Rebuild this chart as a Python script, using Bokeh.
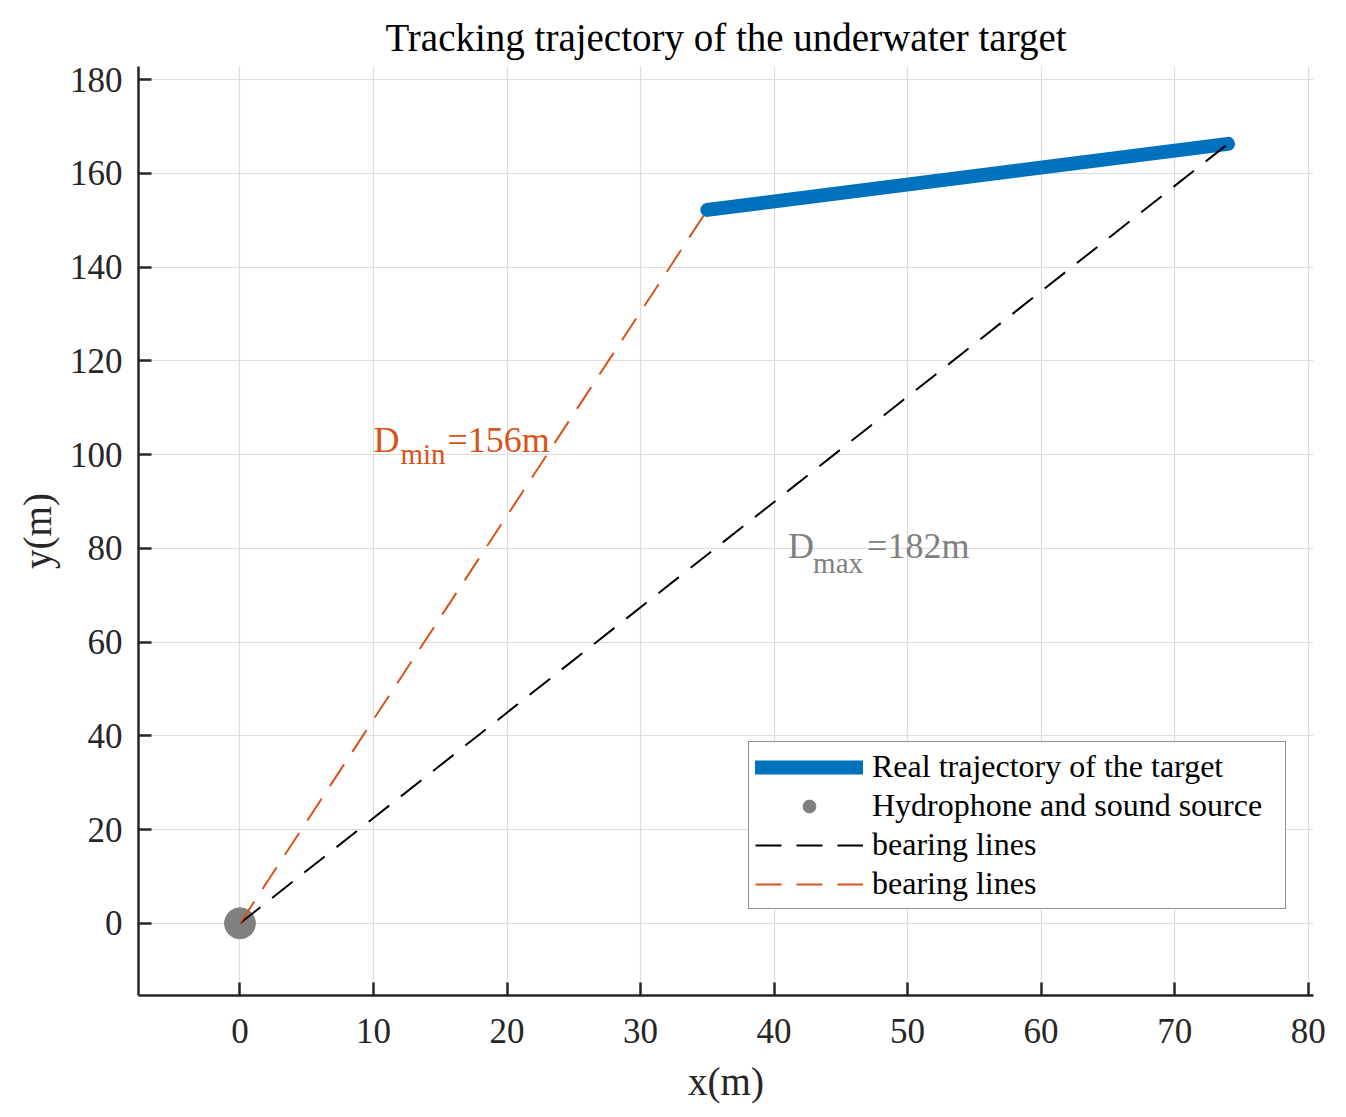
from bokeh.plotting import figure
from bokeh.models import Range1d, Legend, LegendItem, FixedTicker
from bokeh.core.properties import value
from bokeh.embed import file_html
from bokeh.resources import INLINE

FONT = "Liberation Serif"

# ---- data ----
traj_x = [35.0, 74.0]
traj_y = [152.2, 166.3]
hydro_x = [0.0]
hydro_y = [0.0]
bear_max_x = [0.0, 74.0]
bear_max_y = [0.0, 166.3]
bear_min_x = [0.0, 35.0]
bear_min_y = [0.0, 152.2]
x_ticks = [0, 10, 20, 30, 40, 50, 60, 70, 80]
y_ticks = [0, 20, 40, 60, 80, 100, 120, 140, 160, 180]
ann_x = [10.0, 41.05]
ann_y = [103.2, 80.5]
ann_main = ["D", "D"]
ann_sub = ["min", "max"]
ann_rest = ["=156m", "=182m"]
legend_labels = ["Real trajectory of the target", "Hydrophone and sound source",
                 "bearing lines", "bearing lines"]

BLUE = "#0072BD"
ORANGE = "#D95319"
GRAY = "#808080"
AX = "#262626"

p = figure(frame_width=1175, frame_height=929,
           x_range=Range1d(-7.6, 80.4), y_range=Range1d(-15.4, 182.8),
           output_backend="svg", toolbar_location=None,
           min_border_left=138, min_border_right=25, min_border_top=66, min_border_bottom=105,
           outline_line_color=None, background_fill_color="white", border_fill_color="white")

p.title.text = "Tracking trajectory of the underwater target"
p.title.align = "center"
p.title.text_font = FONT
p.title.text_font_size = "39px"
p.title.text_font_style = "normal"
p.title.text_color = "black"
p.title.standoff = 16

p.xaxis.ticker = FixedTicker(ticks=x_ticks)
p.yaxis.ticker = FixedTicker(ticks=y_ticks)
p.xaxis.axis_label = "x(m)"
p.yaxis.axis_label = "y(m)"
for ax in (p.xaxis[0], p.yaxis[0]):
    ax.axis_line_color = AX
    ax.axis_line_width = 2.5
    ax.major_tick_line_color = AX
    ax.major_tick_line_width = 2.5
    ax.major_tick_in = 13
    ax.major_tick_out = 0
    ax.minor_tick_in = 0
    ax.minor_tick_out = 0
    ax.major_label_text_font = FONT
    ax.major_label_text_font_size = "35px"
    ax.major_label_text_color = AX
    ax.axis_label_text_font = FONT
    ax.axis_label_text_font_size = "39px"
    ax.axis_label_text_font_style = "normal"
    ax.axis_label_text_color = AX
p.xaxis.major_label_standoff = 23
p.yaxis.major_label_standoff = 16
p.xaxis.axis_label_standoff = 14
p.yaxis.axis_label_standoff = 8

p.grid.grid_line_color = "#dcdcdc"
p.grid.grid_line_width = 1.2

r_traj = p.line(traj_x, traj_y, line_color=BLUE, line_width=14, line_cap="round")
r_hyd = p.scatter(hydro_x, hydro_y, marker="circle", size=31, fill_color=GRAY, line_color=GRAY)
r_max = p.line(bear_max_x, bear_max_y, line_color="black", line_width=2, line_dash="26 15")
r_min = p.line(bear_min_x, bear_min_y, line_color=ORANGE, line_width=2, line_dash="26 15")

ann_colors = [ORANGE, GRAY]
sub_dx = [27, 25]
sub_dy = [14, 17]
rest_dx = [74, 79]
for i in range(2):
    p.text(x=[ann_x[i]], y=[ann_y[i]], text=[ann_main[i]], text_font=value(FONT),
           text_font_size="36px", text_color=ann_colors[i], text_baseline="alphabetic",
           text_align="left")
    p.text(x=[ann_x[i]], y=[ann_y[i]], text=[ann_sub[i]], text_font=value(FONT),
           text_font_size="29px", text_color=ann_colors[i], text_baseline="alphabetic",
           text_align="left", x_offset=sub_dx[i], y_offset=sub_dy[i])
    p.text(x=[ann_x[i]], y=[ann_y[i]], text=[ann_rest[i]], text_font=value(FONT),
           text_font_size="36px", text_color=ann_colors[i], text_baseline="alphabetic",
           text_align="left", x_offset=rest_dx[i])

legend = Legend(items=[LegendItem(label=legend_labels[0], renderers=[r_traj]),
                       LegendItem(label=legend_labels[1], renderers=[r_hyd]),
                       LegendItem(label=legend_labels[2], renderers=[r_max]),
                       LegendItem(label=legend_labels[3], renderers=[r_min])],
                location=(610, 86), margin=0, padding=6, spacing=2,
                glyph_width=108, glyph_height=32, label_height=32, label_width=407,
                label_standoff=9, label_text_font=FONT, label_text_font_size="32px",
                label_text_color="black", border_line_color=AX, border_line_width=1.5,
                background_fill_color="white", background_fill_alpha=1.0)
p.add_layout(legend)

open("out.html", "w").write(file_html(p, INLINE))
